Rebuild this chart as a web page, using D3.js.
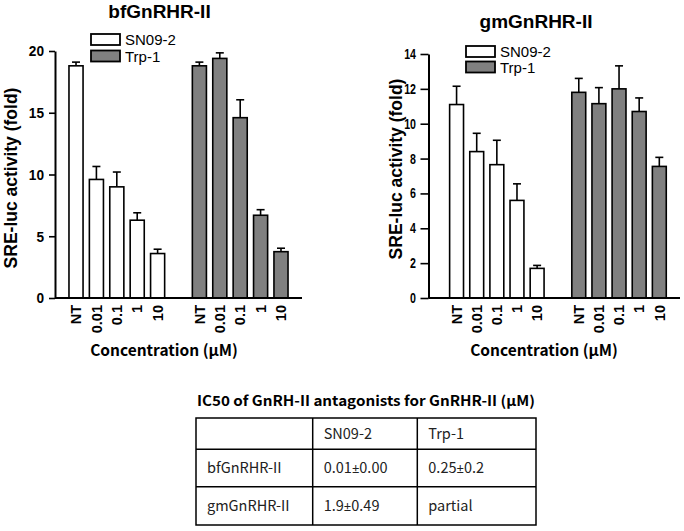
<!DOCTYPE html>
<html>
<head>
<meta charset="utf-8">
<script src="https://cdn.jsdelivr.net/npm/d3@7"></script>
<style>
  html, body { margin: 0; padding: 0; background: #fff; }
  svg { display: block; }
</style>
</head>
<body>
<svg id="chart" width="684" height="531"></svg>
<script>
// ---------- data ----------
const concentrations = ["NT", "0.01", "0.1", "1", "10"];
const compounds = ["SN09-2", "Trp-1"];

const bfSN092Mean = [18.8, 9.6, 9.0, 6.3, 3.6];
const bfSN092Err  = [0.3, 1.05, 1.2, 0.6, 0.35];
const bfTrp1Mean  = [18.8, 19.4, 14.6, 6.7, 3.75];
const bfTrp1Err   = [0.3, 0.45, 1.45, 0.45, 0.28];

const gmSN092Mean = [11.1, 8.4, 7.65, 5.6, 1.7];
const gmSN092Err  = [1.05, 1.05, 1.4, 0.95, 0.17];
const gmTrp1Mean  = [11.8, 11.15, 12.0, 10.7, 7.55];
const gmTrp1Err   = [0.8, 0.92, 1.32, 0.78, 0.52];

const bfTicks = [0, 5, 10, 15, 20];
const gmTicks = [0, 2, 4, 6, 8, 10, 12, 14];

const tableTitle = "IC50 of GnRH-II antagonists for GnRHR-II (\u03BCM)";
const tableHeader = ["", "SN09-2", "Trp-1"];
const tableRows = [
  ["bfGnRHR-II", "0.01\u00B10.00", "0.25\u00B10.2"],
  ["gmGnRHR-II", "1.9\u00B10.49", "partial"]
];

const yLabel = "SRE-luc activity (fold)";
const xLabel = "Concentration (\u03BCM)";

// ---------- styles ----------
const FILL = {"SN09-2": "#ffffff", "Trp-1": "#808080"};
const ARIAL = "'Liberation Sans', Arial, sans-serif";
const KFONT = "'Noto Sans CJK KR', 'Noto Sans', sans-serif";

const svg = d3.select("#chart");

function drawPanel(cfg) {
  const g = svg.append("g");
  const series = [
    {name: compounds[0], mean: cfg.mean[0], err: cfg.err[0]},
    {name: compounds[1], mean: cfg.mean[1], err: cfg.err[1]}
  ];
  const y = d3.scaleLinear().domain(cfg.domain).range([cfg.y0, cfg.y1]);
  const xg = d3.scaleBand().domain(compounds).range([cfg.x0, cfg.x1])
    .paddingInner(cfg.padInner).paddingOuter(cfg.padOuter).align(cfg.align);
  const xi = d3.scaleBand().domain(concentrations).range([0, xg.bandwidth()]).padding(0.31);

  // title
  g.append("text").attr("x", cfg.titleX).attr("y", cfg.titleY)
    .attr("text-anchor", "middle").attr("font-family", ARIAL)
    .attr("font-weight", "bold").attr("font-size", 19).text(cfg.title);

  // bars
  series.forEach(s => {
    const sg = g.append("g").attr("transform", `translate(${xg(s.name)},0)`);
    const items = concentrations.map((c, i) => ({c, v: s.mean[i], e: s.err[i]}));
    sg.selectAll("line.err").data(items).join("line").attr("class", "err")
      .attr("x1", d => xi(d.c) + xi.bandwidth() / 2)
      .attr("x2", d => xi(d.c) + xi.bandwidth() / 2)
      .attr("y1", d => y(d.v)).attr("y2", d => y(d.v + d.e))
      .attr("stroke", "#000").attr("stroke-width", 1.6);
    sg.selectAll("line.cap").data(items).join("line").attr("class", "cap")
      .attr("x1", d => xi(d.c) + xi.bandwidth() / 2 - 4)
      .attr("x2", d => xi(d.c) + xi.bandwidth() / 2 + 4)
      .attr("y1", d => y(d.v + d.e)).attr("y2", d => y(d.v + d.e))
      .attr("stroke", "#000").attr("stroke-width", 1.6);
    sg.selectAll("rect").data(items).join("rect")
      .attr("x", d => xi(d.c)).attr("width", xi.bandwidth())
      .attr("y", d => y(d.v)).attr("height", d => y(0) - y(d.v))
      .attr("fill", FILL[s.name]).attr("stroke", "#000").attr("stroke-width", 1.6);
    sg.selectAll("text").data(items).join("text")
      .attr("transform", d => `translate(${xi(d.c) + xi.bandwidth() / 2},${cfg.y0 + 7}) rotate(-90)`)
      .attr("dy", "0.36em").attr("text-anchor", "end")
      .attr("font-family", ARIAL).attr("font-weight", "bold").attr("font-size", 14.5)
      .text(d => d.c);
  });

  // x axis line
  g.append("line").attr("x1", cfg.x0).attr("x2", cfg.x1)
    .attr("y1", cfg.y0).attr("y2", cfg.y0).attr("stroke", "#000").attr("stroke-width", 2);

  // y axis
  const ya = g.append("g").attr("transform", `translate(${cfg.x0},0)`)
    .call(d3.axisLeft(y).tickValues(cfg.ticks).tickSize(cfg.tickLen).tickPadding(cfg.tickPad).tickSizeOuter(0));
  ya.select(".domain").attr("stroke-width", 2);
  ya.selectAll(".tick line").attr("stroke-width", 1.6);
  ya.selectAll(".tick text").attr("font-family", ARIAL).attr("font-weight", "bold")
    .attr("font-size", cfg.tickFont).attr("fill", "#000")
    .attr("x", -(cfg.tickLen + cfg.tickPad) / cfg.tickScale)
    .attr("transform", `scale(${cfg.tickScale},1)`);

  // y label
  g.append("text").attr("transform", `translate(${cfg.yLabelX},${cfg.yLabelY}) rotate(-90)`)
    .attr("text-anchor", "middle").attr("font-family", ARIAL).attr("font-weight", "bold")
    .attr("font-size", 17.5).text(yLabel);

  // x label
  g.append("text").attr("x", cfg.xLabelX).attr("y", cfg.xLabelY)
    .attr("text-anchor", "middle").attr("font-family", KFONT).attr("font-weight", "bold")
    .attr("font-size", 15.5).text(xLabel);

  // legend
  const lg = g.append("g").attr("transform", `translate(${cfg.legX},${cfg.legY})`);
  compounds.forEach((c, i) => {
    lg.append("rect").attr("x", 0).attr("y", i * cfg.legStep).attr("width", 29).attr("height", 11)
      .attr("fill", FILL[c]).attr("stroke", "#000").attr("stroke-width", 1.8);
    lg.append("text").attr("x", 34).attr("y", i * cfg.legStep + 11)
      .attr("font-family", ARIAL).attr("font-size", 15).text(c);
  });
}

drawPanel({
  title: "bfGnRHR-II", titleX: 159.5, titleY: 18,
  mean: [bfSN092Mean, bfTrp1Mean], err: [bfSN092Err, bfTrp1Err],
  domain: [0, 20], ticks: bfTicks,
  x0: 55, x1: 302, y0: 298, y1: 51,
  padInner: 0.122, padOuter: 0.062, align: 0.5,
  tickLen: 6, tickPad: 5, tickScale: 0.88, tickFont: 15.5,
  yLabelX: 17, yLabelY: 178,
  xLabelX: 164, xLabelY: 356,
  legX: 91, legY: 34, legStep: 16.5
});

drawPanel({
  title: "gmGnRHR-II", titleX: 536, titleY: 28,
  mean: [gmSN092Mean, gmTrp1Mean], err: [gmSN092Err, gmTrp1Err],
  domain: [0, 14], ticks: gmTicks,
  x0: 428.5, x1: 680, y0: 298, y1: 54,
  padInner: 0.125, padOuter: 0.0916, align: 0.665,
  tickLen: 8, tickPad: 4.5, tickScale: 0.76, tickFont: 14,
  yLabelX: 402, yLabelY: 169,
  xLabelX: 544, xLabelY: 356,
  legX: 466, legY: 46, legStep: 15.5
});

// ---------- table ----------
const tbl = svg.append("g");
const colX = [196, 312.7, 417.3, 536];
const rowY = [418, 449.3, 486.7, 525];
tbl.append("text").attr("x", (colX[0] + colX[3]) / 2).attr("y", 406)
  .attr("text-anchor", "middle").attr("font-family", KFONT).attr("font-weight", "bold")
  .attr("font-size", 14).attr("textLength", 338).attr("lengthAdjust", "spacingAndGlyphs")
  .text(tableTitle);

const allRows = [tableHeader].concat(tableRows);
tbl.append("rect").attr("x", colX[0]).attr("y", rowY[0])
  .attr("width", colX[3] - colX[0]).attr("height", rowY[3] - rowY[0])
  .attr("fill", "none").attr("stroke", "#000").attr("stroke-width", 1.5);
tbl.selectAll("line.h").data(rowY.slice(1, -1)).join("line").attr("class", "h")
  .attr("x1", colX[0]).attr("x2", colX[3]).attr("y1", d => d).attr("y2", d => d)
  .attr("stroke", "#000").attr("stroke-width", 1.5);
tbl.selectAll("line.v").data(colX.slice(1, -1)).join("line").attr("class", "v")
  .attr("x1", d => d).attr("x2", d => d).attr("y1", rowY[0]).attr("y2", rowY[3])
  .attr("stroke", "#000").attr("stroke-width", 1.5);
allRows.forEach((row, r) => {
  row.forEach((cell, c) => {
    const t = tbl.append("text").attr("x", colX[c] + 11).attr("y", (rowY[r] + rowY[r + 1]) / 2)
      .attr("dy", "0.36em").attr("font-family", KFONT).attr("font-size", 14.5)
      .attr("fill", "#222");
    const parts = cell.split("\u00B1");
    parts.forEach((p, k) => {
      if (k > 0) t.append("tspan").attr("font-family", "'Noto Sans', 'DejaVu Sans', sans-serif")
        .attr("font-size", 13).text("\u00B1");
      t.append("tspan").text(p);
    });
  });
});
</script>
</body>
</html>
